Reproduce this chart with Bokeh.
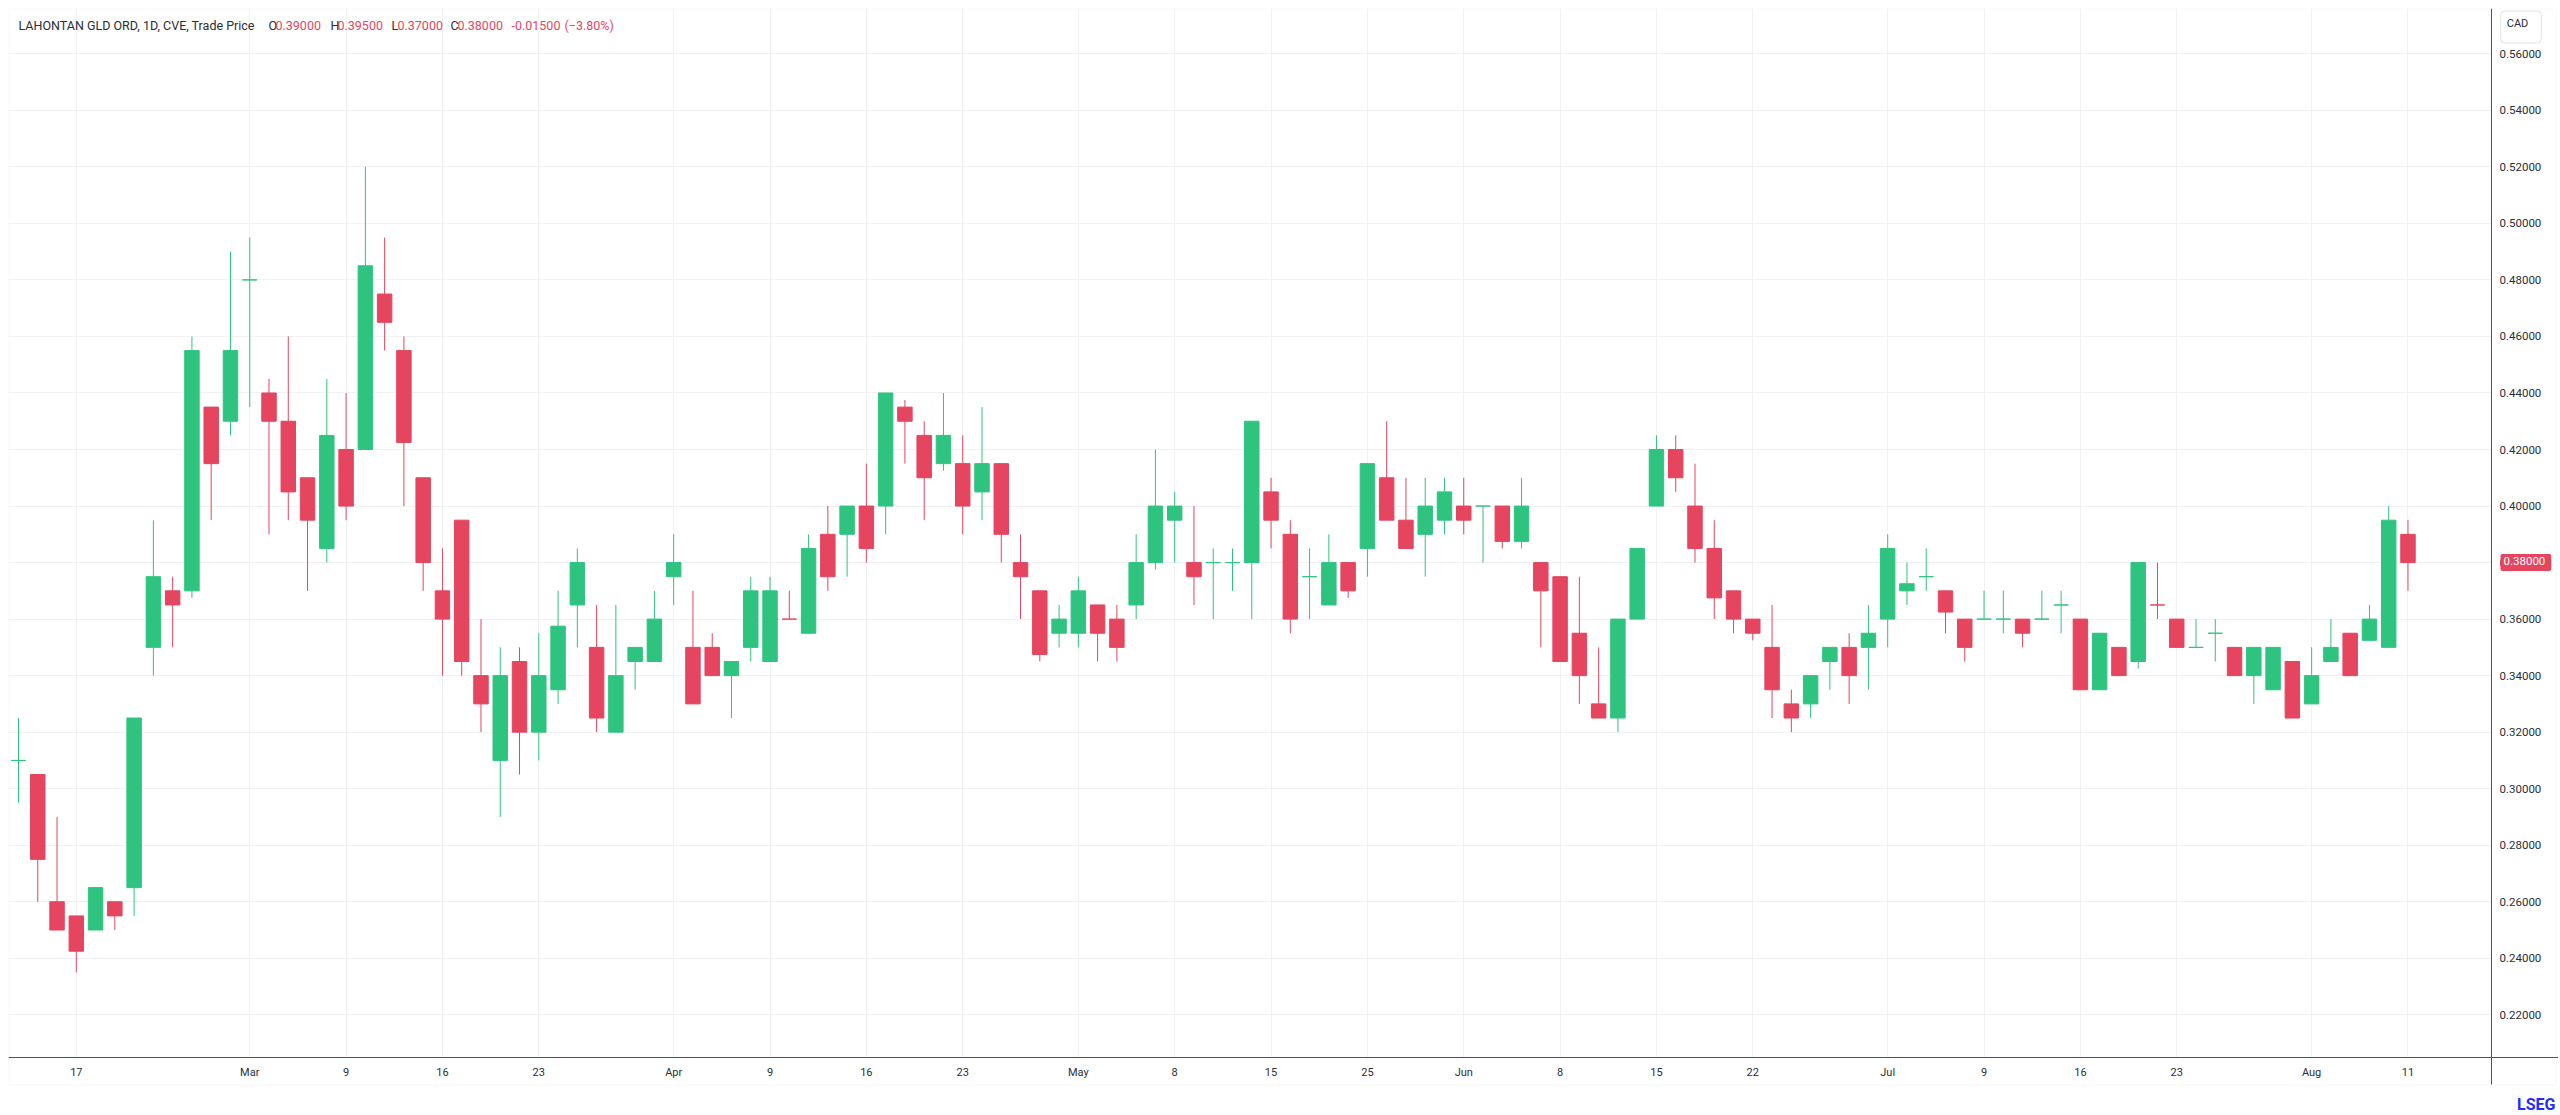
import numpy as np
import pandas as pd
from bokeh.plotting import figure
from bokeh.models import (ColumnDataSource, FixedTicker, Label, Range1d,
                          NumeralTickFormatter, BoxAnnotation)
from bokeh.embed import file_html
from bokeh.resources import INLINE

# ---------------- data ----------------
holidays = ["2026-02-16", "2026-04-03", "2026-05-18", "2026-07-01", "2026-08-03"]
dates = [d.strftime("%Y-%m-%d") for d in pd.bdate_range("2026-02-11", "2026-08-11")
         if d.strftime("%Y-%m-%d") not in holidays]

opens = [0.31, 0.305, 0.26, 0.255, 0.25, 0.26, 0.265, 0.35, 0.37, 0.37,
         0.435, 0.43, 0.48, 0.44, 0.43, 0.41, 0.385, 0.42, 0.42, 0.475,
         0.455, 0.41, 0.37, 0.395, 0.34, 0.31, 0.345, 0.32, 0.335, 0.365,
         0.35, 0.32, 0.345, 0.345, 0.375, 0.35, 0.35, 0.34, 0.35, 0.345,
         0.36, 0.355, 0.39, 0.39, 0.40, 0.40, 0.435, 0.425, 0.415, 0.415,
         0.405, 0.415, 0.38, 0.37, 0.355, 0.355, 0.365, 0.36, 0.365, 0.38,
         0.395, 0.38, 0.38, 0.38, 0.38, 0.405, 0.39, 0.375, 0.365, 0.38,
         0.385, 0.41, 0.395, 0.39, 0.395, 0.40, 0.40, 0.40, 0.3875, 0.38,
         0.375, 0.355, 0.33, 0.325, 0.36, 0.40, 0.42, 0.40, 0.385, 0.37,
         0.36, 0.35, 0.33, 0.33, 0.345, 0.35, 0.35, 0.36, 0.37, 0.375,
         0.37, 0.36, 0.36, 0.36, 0.36, 0.36, 0.365, 0.36, 0.335, 0.35,
         0.345, 0.365, 0.36, 0.35, 0.355, 0.35, 0.34, 0.335, 0.345, 0.33,
         0.345, 0.355, 0.3525, 0.35, 0.39]
highs = [0.325, 0.305, 0.29, 0.255, 0.265, 0.26, 0.325, 0.395, 0.375, 0.46,
         0.435, 0.49, 0.495, 0.445, 0.46, 0.41, 0.445, 0.44, 0.52, 0.495,
         0.46, 0.41, 0.385, 0.395, 0.36, 0.35, 0.35, 0.355, 0.37, 0.385,
         0.365, 0.365, 0.35, 0.37, 0.39, 0.37, 0.355, 0.345, 0.375, 0.375,
         0.37, 0.39, 0.40, 0.40, 0.415, 0.44, 0.4375, 0.43, 0.44, 0.425,
         0.435, 0.415, 0.39, 0.37, 0.365, 0.375, 0.365, 0.365, 0.39, 0.42,
         0.405, 0.40, 0.385, 0.385, 0.43, 0.41, 0.395, 0.385, 0.39, 0.38,
         0.415, 0.43, 0.41, 0.41, 0.41, 0.41, 0.40, 0.40, 0.41, 0.38,
         0.375, 0.375, 0.35, 0.36, 0.385, 0.425, 0.425, 0.415, 0.395, 0.37,
         0.36, 0.365, 0.335, 0.34, 0.35, 0.355, 0.365, 0.39, 0.38, 0.385,
         0.37, 0.36, 0.37, 0.37, 0.36, 0.37, 0.37, 0.36, 0.355, 0.35,
         0.38, 0.38, 0.36, 0.36, 0.36, 0.35, 0.35, 0.35, 0.345, 0.35,
         0.36, 0.355, 0.365, 0.40, 0.395]
lows = [0.295, 0.26, 0.25, 0.235, 0.25, 0.25, 0.255, 0.34, 0.35, 0.3675,
        0.395, 0.425, 0.435, 0.39, 0.395, 0.37, 0.38, 0.395, 0.42, 0.455,
        0.40, 0.37, 0.34, 0.34, 0.32, 0.29, 0.305, 0.31, 0.33, 0.35,
        0.32, 0.32, 0.335, 0.345, 0.365, 0.33, 0.34, 0.325, 0.345, 0.345,
        0.36, 0.355, 0.37, 0.375, 0.38, 0.39, 0.415, 0.395, 0.4125, 0.39,
        0.395, 0.38, 0.36, 0.345, 0.35, 0.35, 0.345, 0.345, 0.36, 0.3775,
        0.38, 0.365, 0.36, 0.37, 0.36, 0.385, 0.355, 0.36, 0.365, 0.3675,
        0.375, 0.395, 0.385, 0.375, 0.39, 0.39, 0.38, 0.385, 0.385, 0.35,
        0.345, 0.33, 0.325, 0.32, 0.36, 0.40, 0.405, 0.38, 0.36, 0.355,
        0.3525, 0.325, 0.32, 0.325, 0.335, 0.33, 0.335, 0.35, 0.365, 0.37,
        0.355, 0.345, 0.36, 0.355, 0.35, 0.36, 0.355, 0.335, 0.335, 0.34,
        0.3425, 0.36, 0.35, 0.35, 0.345, 0.34, 0.33, 0.335, 0.325, 0.33,
        0.345, 0.34, 0.3525, 0.35, 0.37]
closes = [0.31, 0.275, 0.25, 0.2425, 0.265, 0.255, 0.325, 0.375, 0.365, 0.455,
          0.415, 0.455, 0.48, 0.43, 0.405, 0.395, 0.425, 0.40, 0.485, 0.465,
          0.4225, 0.38, 0.36, 0.345, 0.33, 0.34, 0.32, 0.34, 0.3575, 0.38,
          0.325, 0.34, 0.35, 0.36, 0.38, 0.33, 0.34, 0.345, 0.37, 0.37,
          0.36, 0.385, 0.375, 0.40, 0.385, 0.44, 0.43, 0.41, 0.425, 0.40,
          0.415, 0.39, 0.375, 0.3475, 0.36, 0.37, 0.355, 0.35, 0.38, 0.40,
          0.40, 0.375, 0.38, 0.38, 0.43, 0.395, 0.36, 0.375, 0.38, 0.37,
          0.415, 0.395, 0.385, 0.40, 0.405, 0.395, 0.40, 0.3875, 0.40, 0.37,
          0.345, 0.34, 0.325, 0.36, 0.385, 0.42, 0.41, 0.385, 0.3675, 0.36,
          0.355, 0.335, 0.325, 0.34, 0.35, 0.34, 0.355, 0.385, 0.3725, 0.375,
          0.3625, 0.35, 0.36, 0.36, 0.355, 0.36, 0.365, 0.335, 0.355, 0.34,
          0.38, 0.365, 0.35, 0.35, 0.355, 0.34, 0.35, 0.35, 0.325, 0.34,
          0.35, 0.34, 0.36, 0.395, 0.38]

tick_dates = ["2026-02-17", "2026-03-02", "2026-03-09", "2026-03-16", "2026-03-23",
              "2026-04-01", "2026-04-09", "2026-04-16", "2026-04-23", "2026-05-01",
              "2026-05-08", "2026-05-15", "2026-05-25", "2026-06-01", "2026-06-08",
              "2026-06-15", "2026-06-22", "2026-07-02", "2026-07-09", "2026-07-16",
              "2026-07-23", "2026-08-04", "2026-08-11"]
tick_labels = ["17", "Mar", "9", "16", "23", "Apr", "9", "16", "23", "May", "8", "15",
               "25", "Jun", "8", "15", "22", "Jul", "9", "16", "23", "Aug", "11"]
price_ticks = [0.22, 0.24, 0.26, 0.28, 0.30, 0.32, 0.34, 0.36, 0.38, 0.40,
               0.42, 0.44, 0.46, 0.48, 0.50, 0.52, 0.54, 0.56]

title_text = "LAHONTAN GLD ORD, 1D, CVE, Trade Price"
currency = "CAD"
brand = "LSEG"

# ---------------- styling ----------------
UP = "#2EC480"
DOWN = "#E5455F"
GRID = "#f2f2f2"
TEXT = "#2a2e39"
BORDER = "#e0e3eb"
FONT = "Roboto"

n = len(closes)
colors = []
for i in range(n):
    if closes[i] > opens[i]:
        up = True
    elif closes[i] < opens[i]:
        up = False
    else:
        up = i == 0 or closes[i] >= closes[i - 1]
    colors.append(UP if up else DOWN)

src = ColumnDataSource(dict(
    x=list(range(n)), open=opens, close=closes, high=highs, low=lows,
    top=[max(o, c) for o, c in zip(opens, closes)],
    bottom=[min(o, c) for o, c in zip(opens, closes)],
    color=colors,
))

# ---------------- geometry (page pixels -> data) ----------------
W, H = 2558, 1113
F_LEFT, F_TOP = 8, 8
PX_PER_BAR = 19.27          # horizontal pixels per trading day
FIRST_BAR_PX = 18           # page x of first bar
PX_PER_UNIT = 56.53 / 0.02  # vertical pixels per price unit
REF_PRICE, REF_PX = 0.56, 53.3

x_start = -(FIRST_BAR_PX - F_LEFT) / PX_PER_BAR
x_end = x_start + (W - F_LEFT) / PX_PER_BAR


def xd(px):
    return x_start + (px - F_LEFT) / PX_PER_BAR


def yd(py):
    return REF_PRICE - (py - REF_PX) / PX_PER_UNIT


AXIS_X_PX, AXIS_Y_PX, BOTTOM_PX = 2491, 1057, 1084

p = figure(width=W, height=H, output_backend="svg", toolbar_location=None,
           x_range=Range1d(x_start, x_end), y_range=Range1d(yd(H), yd(F_TOP)),
           y_axis_location="right",
           min_border_left=F_LEFT, min_border_top=F_TOP,
           min_border_right=0, min_border_bottom=0)
p.outline_line_color = None
p.background_fill_color = "white"
p.border_fill_color = "white"

date_idx = {d: i for i, d in enumerate(dates)}
tick_pos = [date_idx[d] for d in tick_dates]

p.xgrid.ticker = FixedTicker(ticks=tick_pos)
p.ygrid.ticker = FixedTicker(ticks=price_ticks)
p.xgrid.grid_line_color = GRID
p.ygrid.grid_line_color = GRID

# white covers so grid lines stop at the price scale and at the time scale
p.add_layout(BoxAnnotation(left=xd(AXIS_X_PX + 0.5), right=x_end, top=yd(F_TOP), bottom=yd(H),
                           fill_color="white", fill_alpha=1, line_color=None, level="underlay"))
p.add_layout(BoxAnnotation(left=x_start, right=x_end, top=yd(AXIS_Y_PX + 0.5), bottom=yd(H),
                           fill_color="white", fill_alpha=1, line_color=None, level="underlay"))
# outer frame border
p.add_layout(BoxAnnotation(left=xd(8.5), right=xd(2555.5), top=yd(8.5), bottom=yd(BOTTOM_PX + 0.5),
                           fill_alpha=0, line_color=BORDER, line_width=1, level="underlay"))

p.segment(x0="x", y0="low", x1="x", y1="high", line_color="color", line_width=1, source=src)
p.vbar(x="x", width=0.75, top="top", bottom="bottom", fill_color="color",
       line_color="color", line_width=1, source=src)

p.xaxis.ticker = FixedTicker(ticks=tick_pos)
p.xaxis.major_label_overrides = {tp: lab for tp, lab in zip(tick_pos, tick_labels)}
p.xaxis.fixed_location = yd(AXIS_Y_PX)
p.yaxis.ticker = FixedTicker(ticks=price_ticks)
p.yaxis.formatter = NumeralTickFormatter(format="0.00000")
p.yaxis.fixed_location = xd(AXIS_X_PX)
p.yaxis.bounds = (yd(BOTTOM_PX), yd(F_TOP))
for ax in (p.xaxis[0], p.yaxis[0]):
    ax.axis_line_color = "#50535e"
    ax.axis_line_width = 1
    ax.major_tick_line_color = None
    ax.minor_tick_line_color = None
    ax.major_tick_out = 0
    ax.major_tick_in = 0
    ax.major_label_text_color = TEXT
    ax.major_label_text_font = FONT
    ax.major_label_standoff = 8
p.xaxis.major_label_text_font_size = "11px"
p.yaxis.major_label_text_font_size = "11.5px"

# ---------------- header legend ----------------
last = n - 1
chg = closes[last] - closes[last - 1]
pct = chg / closes[last - 1] * 100
HY = yd(25)
segments = [
    (18, title_text, TEXT),
    (268, "O", TEXT), (275, f"{opens[last]:.5f}", DOWN),
    (330, "H", TEXT), (337, f"{highs[last]:.5f}", DOWN),
    (391, "L", TEXT), (397, f"{lows[last]:.5f}", DOWN),
    (450, "C", TEXT), (457, f"{closes[last]:.5f}", DOWN),
    (511, f"{chg:+.5f}", DOWN),
    (564, f"({pct:+.2f}%)".replace("-", "\u2212"), DOWN),
]
for px, txt, col in segments:
    p.add_layout(Label(x=xd(px), y=HY, text=txt, text_color=col, text_font=FONT,
                       text_font_size="12.5px", text_baseline="middle", text_align="left"))

# last price marker on the price scale
p.add_layout(Label(x=xd(2500), y=closes[last], text=f"{closes[last]:.5f}",
                   text_color="white", text_font=FONT, text_font_size="11.5px",
                   text_baseline="middle", text_align="left",
                   background_fill_color=DOWN, padding=(3, 6, 3, 6), border_radius=2))

# currency box
p.add_layout(Label(x=xd(2520.5), y=yd(26.5), text=currency, text_color=TEXT, text_font=FONT,
                   text_font_size="11px", text_baseline="middle", text_align="center",
                   border_line_color=BORDER, border_line_width=1, border_radius=4,
                   background_fill_color="white", padding=(6, 13, 6, 13)))

# brand mark
p.add_layout(Label(x=xd(2555), y=yd(1104), text=brand, text_color="#1f2bff", text_font=FONT,
                   text_font_size="16px", text_font_style="bold",
                   text_baseline="middle", text_align="right"))

open("out.html", "w").write(file_html(p, INLINE))
